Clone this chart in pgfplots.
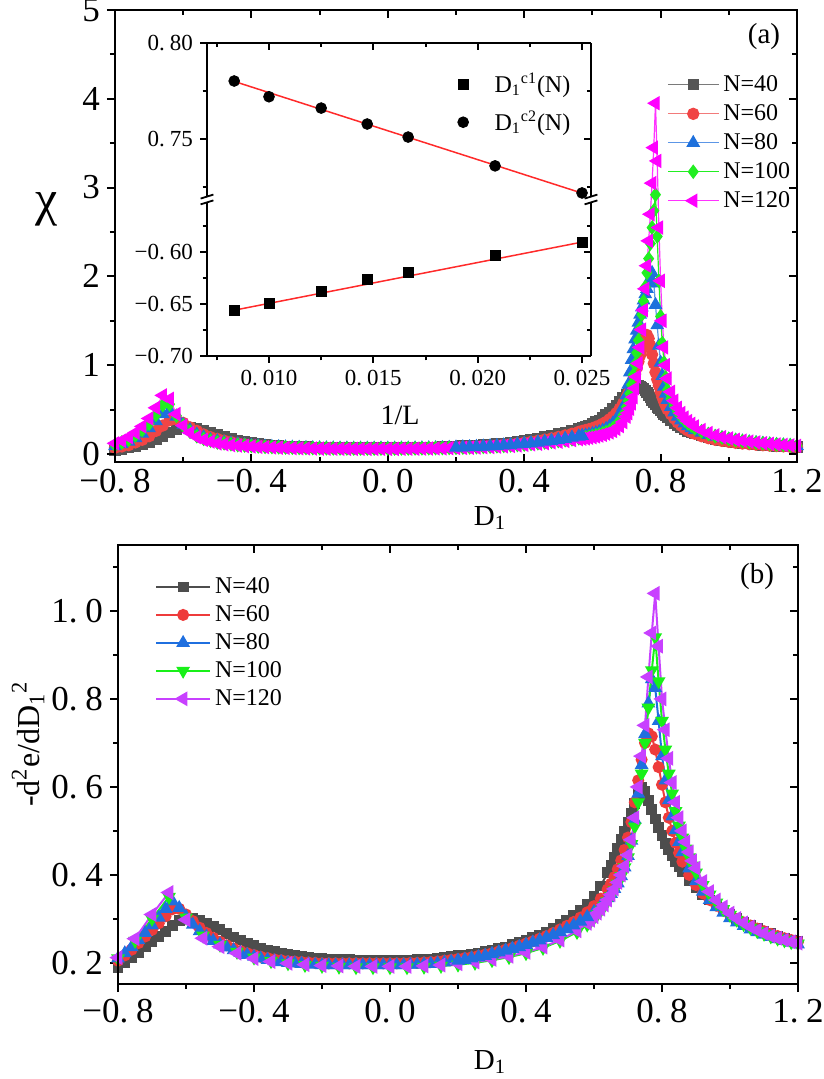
\documentclass[border=0pt]{standalone}
\usepackage{fontspec}
\setmainfont{Liberation Serif}
\usepackage{pgfplots}
\usepackage{pgfplotstable}
\pgfplotsset{compat=1.18}

\definecolor{aA}{HTML}{555555}\definecolor{aAl}{HTML}{7A7A7A}
\definecolor{aB}{HTML}{F04545}\definecolor{aBl}{HTML}{F27A7A}
\definecolor{aC}{HTML}{1E70DC}\definecolor{aCl}{HTML}{5C96E6}
\definecolor{aD}{HTML}{22EE22}\definecolor{aDl}{HTML}{22EE22}
\definecolor{aE}{HTML}{FF00FF}\definecolor{aEl}{HTML}{FF33FF}
\definecolor{bA}{HTML}{4D4D4D}
\definecolor{bB}{HTML}{EE3B3B}
\definecolor{bC}{HTML}{1F6FDF}
\definecolor{bD}{HTML}{19F019}
\definecolor{bE}{HTML}{C840FF}
\definecolor{fitred}{HTML}{FF2A2A}

\newcommand{\tk}[2]{#1.\hspace{0.22em}#2}

\pgfplotsset{
  base/.style={scale only axis, anchor=south west, scaled ticks=false,
    axis line style={line width=1.1pt},
    every tick/.append style={line width=1pt, black},
    major tick length=4pt, minor tick length=2.5pt},
  bigtl/.style={ticklabel style={font=\fontsize{17.5}{20}\selectfont}},
  smalltl/.style={ticklabel style={font=\fontsize{11.5}{13}\selectfont},
    major tick length=3.5pt, minor tick length=2.2pt,
    axis line style={line width=1pt}},
  sA/.style={color=aAl, line width=0.6pt, mark=square*, mark size=2.5pt, mark options={fill=aA, draw=aA, solid}},
  sB/.style={color=aBl, line width=0.6pt, mark=*, mark size=2.8pt, mark options={fill=aB, draw=aB, solid}},
  sC/.style={color=aCl, line width=0.6pt, mark=triangle*, mark size=3.4pt, mark options={fill=aC, draw=aC, solid}},
  sD/.style={color=aDl, line width=0.6pt, mark=diamond*, mark size=3.2pt, mark options={fill=aD, draw=aD, solid}},
  sE/.style={color=aEl, line width=0.6pt, mark=triangle*, mark size=3.6pt, mark options={fill=aE, draw=aE, solid, rotate=90}},
  tA/.style={color=bA, line width=1pt, mark=square*, mark size=2.2pt, mark options={fill=bA, draw=bA, solid}},
  tB/.style={color=bB, line width=1pt, mark=*, mark size=2.5pt, mark options={fill=bB, draw=bB, solid}},
  tC/.style={color=bC, line width=1pt, mark=triangle*, mark size=3pt, mark options={fill=bC, draw=bC, solid}},
  tD/.style={color=bD, line width=1pt, mark=triangle*, mark size=3pt, mark options={fill=bD, draw=bD, solid, rotate=180}},
  tE/.style={color=bE, line width=1pt, mark=triangle*, mark size=3.3pt, mark options={fill=bE, draw=bE, solid, rotate=90}},
}

\pgfplotstableread{
D n40 n60 n80 n100 n120
-0.80 0.045 0.070 0.090 0.100 0.120
-0.78 0.055 0.085 0.110 0.130 0.150
-0.76 0.070 0.100 0.140 0.160 0.190
-0.74 0.085 0.130 0.180 0.210 0.240
-0.72 0.105 0.160 0.230 0.270 0.310
-0.70 0.130 0.200 0.290 0.340 0.400
-0.68 0.160 0.260 0.370 0.440 0.520
-0.66 0.200 0.320 0.450 0.550 0.660
-0.64 0.240 0.380 0.490 0.560 0.620
-0.62 0.280 0.390 0.420 0.430 0.450
-0.60 0.300 0.350 0.330 0.320 0.320
-0.58 0.300 0.300 0.270 0.250 0.240
-0.56 0.285 0.260 0.220 0.200 0.190
-0.54 0.260 0.220 0.190 0.170 0.160
-0.52 0.240 0.190 0.160 0.150 0.140
-0.50 0.215 0.170 0.145 0.130 0.120
-0.48 0.195 0.150 0.130 0.120 0.110
-0.46 0.175 0.135 0.120 0.110 0.100
-0.44 0.155 0.120 0.110 0.100 0.095
-0.42 0.140 0.110 0.100 0.095 0.090
-0.40 0.125 0.100 0.095 0.090 0.085
-0.38 0.115 0.095 0.090 0.085 0.080
-0.36 0.106 0.090 0.085 0.080 0.077
-0.34 0.099 0.086 0.082 0.078 0.074
-0.32 0.093 0.082 0.079 0.075 0.071
-0.30 0.088 0.079 0.076 0.073 0.069
-0.28 0.084 0.076 0.074 0.071 0.067
-0.26 0.081 0.074 0.072 0.069 0.065
-0.24 0.078 0.072 0.070 0.067 0.063
-0.22 0.076 0.070 0.068 0.066 0.062
-0.20 0.074 0.069 0.067 0.065 0.061
-0.18 0.073 0.068 0.066 0.064 0.060
-0.16 0.072 0.067 0.065 0.063 0.059
-0.14 0.071 0.066 0.064 0.062 0.059
-0.12 0.070 0.066 0.064 0.062 0.058
-0.10 0.070 0.065 0.063 0.061 0.058
-0.08 0.069 0.065 0.063 0.061 0.058
-0.06 0.069 0.065 0.063 0.061 0.058
-0.04 0.069 0.065 0.063 0.061 0.058
-0.02 0.069 0.065 0.063 0.061 0.058
0.00 0.069 0.065 0.063 0.061 0.058
0.02 0.070 0.065 0.063 0.061 0.058
0.04 0.070 0.066 0.064 0.062 0.059
0.06 0.071 0.066 0.064 0.062 0.059
0.08 0.072 0.067 0.065 0.063 0.060
0.10 0.073 0.068 0.066 0.064 0.061
0.12 0.075 0.069 0.067 0.065 0.062
0.14 0.077 0.070 0.068 0.066 0.063
0.16 0.079 0.072 0.069 0.067 0.064
0.18 0.082 0.074 0.071 0.069 0.066
0.20 0.085 0.076 0.073 0.070 0.067
0.22 0.089 0.078 0.075 0.072 0.069
0.24 0.093 0.081 0.077 0.074 0.071
0.26 0.097 0.084 0.080 0.077 0.073
0.28 0.101 0.088 0.083 0.080 0.076
0.30 0.105 0.092 0.087 0.083 0.079
0.32 0.112 0.097 0.091 0.087 0.083
0.34 0.120 0.103 0.096 0.091 0.087
0.36 0.129 0.110 0.101 0.096 0.092
0.38 0.139 0.118 0.107 0.101 0.097
0.40 0.150 0.127 0.114 0.107 0.103
0.42 0.163 0.137 0.121 0.114 0.109
0.44 0.177 0.149 0.129 0.121 0.116
0.46 0.192 0.162 0.138 0.129 0.123
0.48 0.208 0.176 0.148 0.137 0.131
0.50 0.225 0.192 0.158 0.146 0.139
0.52 0.245 0.209 0.170 0.156 0.148
0.54 0.265 0.228 0.183 0.166 0.157
0.56 0.287 0.250 0.197 0.177 0.167
0.57 0.300 0.260 0.203 0.182 0.172
0.58 0.310 0.270 0.210 0.188 0.177
0.59 0.325 0.280 0.218 0.195 0.183
0.60 0.340 0.290 0.227 0.203 0.190
0.61 0.360 0.305 0.237 0.212 0.198
0.62 0.380 0.320 0.250 0.222 0.207
0.63 0.410 0.340 0.265 0.234 0.217
0.64 0.440 0.360 0.285 0.248 0.229
0.65 0.470 0.390 0.310 0.265 0.243
0.66 0.510 0.420 0.345 0.290 0.260
0.67 0.550 0.460 0.390 0.325 0.283
0.68 0.590 0.510 0.450 0.375 0.315
0.69 0.630 0.570 0.530 0.440 0.360
0.700 0.670 0.640 0.660 0.530 0.420
0.705 0.690 0.680 0.780 0.600 0.460
0.710 0.710 0.730 0.920 0.680 0.510
0.715 0.725 0.780 1.060 0.780 0.570
0.720 0.740 0.840 1.180 0.890 0.640
0.725 0.750 0.900 1.290 1.010 0.740
0.730 0.760 0.970 1.390 1.140 0.870
0.735 0.765 1.040 1.480 1.280 1.020
0.740 0.760 1.110 1.570 1.420 1.200
0.745 0.750 1.180 1.650 1.570 1.400
0.750 0.735 1.250 1.730 1.720 1.620
0.755 0.715 1.310 1.800 1.880 1.860
0.760 0.690 1.340 1.860 2.040 2.120
0.765 0.665 1.300 1.920 2.200 2.400
0.770 0.635 1.220 1.980 2.370 2.700
0.775 0.605 1.120 2.040 2.550 3.050
0.780 0.580 1.020 1.920 2.740 3.450
0.785 0.555 0.920 1.680 2.920 3.950
0.790 0.530 0.840 1.450 2.450 3.300
0.795 0.510 0.770 1.220 1.950 2.550
0.800 0.490 0.700 1.030 1.550 1.950
0.805 0.470 0.640 0.880 1.250 1.500
0.810 0.450 0.590 0.760 1.030 1.200
0.815 0.430 0.545 0.680 0.860 1.000
0.820 0.410 0.505 0.610 0.720 0.850
0.83 0.380 0.450 0.530 0.620 0.700
0.84 0.350 0.400 0.470 0.540 0.600
0.85 0.325 0.355 0.420 0.470 0.520
0.86 0.300 0.320 0.380 0.420 0.460
0.87 0.280 0.290 0.345 0.380 0.410
0.88 0.260 0.265 0.315 0.345 0.370
0.89 0.245 0.245 0.290 0.320 0.340
0.90 0.230 0.228 0.270 0.290 0.310
0.92 0.205 0.200 0.240 0.255 0.270
0.94 0.185 0.178 0.215 0.225 0.235
0.96 0.168 0.160 0.195 0.200 0.210
0.98 0.153 0.147 0.180 0.185 0.190
1.00 0.141 0.136 0.165 0.170 0.175
1.02 0.131 0.126 0.153 0.157 0.160
1.04 0.122 0.118 0.142 0.146 0.150
1.06 0.114 0.111 0.133 0.136 0.140
1.08 0.107 0.105 0.125 0.128 0.130
1.10 0.101 0.099 0.118 0.120 0.122
1.12 0.096 0.094 0.111 0.113 0.115
1.14 0.091 0.090 0.105 0.107 0.108
1.16 0.087 0.086 0.100 0.102 0.102
1.18 0.083 0.082 0.095 0.097 0.097
1.20 0.079 0.078 0.090 0.092 0.092
}\tabA

\pgfplotstableread{
D b40 b60 b80
-0.80 0.190 0.205 0.210
-0.78 0.200 0.217 0.222
-0.76 0.212 0.230 0.236
-0.74 0.224 0.245 0.252
-0.72 0.236 0.260 0.268
-0.70 0.248 0.275 0.285
-0.68 0.260 0.290 0.303
-0.66 0.272 0.306 0.323
-0.64 0.285 0.322 0.340
-0.62 0.297 0.323 0.325
-0.60 0.302 0.310 0.305
-0.58 0.300 0.295 0.287
-0.56 0.296 0.280 0.272
-0.54 0.290 0.268 0.260
-0.52 0.283 0.257 0.250
-0.50 0.275 0.248 0.242
-0.48 0.267 0.240 0.235
-0.46 0.259 0.233 0.229
-0.44 0.252 0.227 0.223
-0.42 0.245 0.222 0.218
-0.40 0.239 0.218 0.214
-0.38 0.234 0.214 0.210
-0.36 0.229 0.211 0.207
-0.34 0.225 0.208 0.204
-0.32 0.222 0.206 0.202
-0.30 0.219 0.204 0.200
-0.28 0.217 0.203 0.199
-0.26 0.215 0.202 0.198
-0.24 0.213 0.201 0.197
-0.22 0.211 0.200 0.196
-0.20 0.210 0.199 0.195
-0.18 0.209 0.199 0.195
-0.16 0.208 0.199 0.195
-0.14 0.207 0.199 0.195
-0.12 0.207 0.199 0.195
-0.10 0.206 0.199 0.195
-0.08 0.206 0.199 0.195
-0.06 0.206 0.199 0.195
-0.04 0.206 0.199 0.195
-0.02 0.206 0.199 0.195
0.00 0.206 0.199 0.195
0.02 0.206 0.199 0.195
0.04 0.206 0.199 0.195
0.06 0.206 0.200 0.196
0.08 0.207 0.200 0.196
0.10 0.208 0.201 0.197
0.12 0.209 0.202 0.198
0.14 0.210 0.203 0.199
0.16 0.212 0.205 0.201
0.18 0.214 0.207 0.203
0.20 0.216 0.209 0.205
0.22 0.218 0.211 0.207
0.24 0.220 0.213 0.210
0.26 0.222 0.216 0.213
0.28 0.225 0.219 0.216
0.30 0.228 0.222 0.220
0.32 0.232 0.226 0.224
0.34 0.236 0.230 0.228
0.36 0.241 0.234 0.232
0.38 0.246 0.239 0.236
0.40 0.251 0.244 0.241
0.42 0.257 0.249 0.246
0.44 0.263 0.255 0.251
0.46 0.270 0.261 0.257
0.48 0.278 0.268 0.263
0.50 0.287 0.276 0.270
0.52 0.297 0.284 0.277
0.54 0.308 0.293 0.285
0.56 0.320 0.303 0.294
0.58 0.334 0.315 0.304
0.60 0.352 0.329 0.316
0.62 0.375 0.346 0.330
0.64 0.405 0.367 0.347
0.65 0.422 0.380 0.357
0.66 0.440 0.395 0.368
0.67 0.460 0.413 0.381
0.68 0.480 0.433 0.397
0.69 0.500 0.457 0.417
0.70 0.520 0.485 0.443
0.71 0.540 0.520 0.478
0.72 0.562 0.565 0.525
0.73 0.585 0.615 0.585
0.74 0.600 0.662 0.650
0.75 0.590 0.700 0.720
0.76 0.570 0.722 0.790
0.77 0.548 0.715 0.845
0.78 0.527 0.685 0.825
0.79 0.507 0.645 0.750
0.80 0.489 0.605 0.670
0.81 0.472 0.565 0.615
0.82 0.457 0.530 0.570
0.83 0.443 0.500 0.533
0.84 0.430 0.473 0.502
0.85 0.418 0.450 0.475
0.86 0.407 0.430 0.452
0.88 0.388 0.400 0.415
0.90 0.371 0.377 0.386
0.92 0.356 0.358 0.362
0.94 0.343 0.343 0.343
0.96 0.331 0.330 0.327
0.98 0.320 0.319 0.314
1.00 0.310 0.309 0.302
1.02 0.301 0.300 0.292
1.04 0.293 0.292 0.284
1.06 0.285 0.285 0.276
1.08 0.278 0.278 0.270
1.10 0.272 0.272 0.264
1.12 0.266 0.266 0.259
1.14 0.261 0.261 0.254
1.16 0.256 0.256 0.250
1.18 0.252 0.252 0.246
1.20 0.248 0.248 0.242
}\tabB

\pgfplotstableread{
D b100 b120
-0.80 0.210 0.212
-0.75 0.250 0.255
-0.70 0.300 0.310
-0.65 0.350 0.360
-0.60 0.303 0.298
-0.55 0.262 0.256
-0.50 0.241 0.237
-0.45 0.225 0.222
-0.40 0.212 0.210
-0.35 0.204 0.203
-0.30 0.199 0.199
-0.25 0.195 0.196
-0.20 0.193 0.194
-0.15 0.191 0.193
-0.10 0.190 0.192
-0.05 0.190 0.192
0.00 0.190 0.192
0.05 0.190 0.192
0.10 0.191 0.193
0.15 0.193 0.195
0.20 0.196 0.198
0.25 0.200 0.202
0.30 0.206 0.208
0.35 0.213 0.215
0.40 0.222 0.224
0.45 0.234 0.236
0.50 0.250 0.252
0.55 0.270 0.273
0.58 0.287 0.290
0.59 0.294 0.297
0.60 0.302 0.305
0.61 0.310 0.313
0.62 0.319 0.322
0.63 0.329 0.332
0.64 0.340 0.343
0.65 0.352 0.355
0.66 0.365 0.368
0.67 0.380 0.383
0.68 0.397 0.400
0.69 0.417 0.420
0.70 0.440 0.445
0.71 0.470 0.480
0.72 0.510 0.530
0.73 0.565 0.600
0.74 0.630 0.670
0.75 0.700 0.740
0.76 0.780 0.850
0.77 0.865 0.950
0.78 0.940 1.040
0.79 0.840 0.920
0.80 0.750 0.800
0.81 0.685 0.730
0.82 0.630 0.665
0.83 0.585 0.610
0.84 0.545 0.565
0.85 0.512 0.530
0.86 0.485 0.500
0.87 0.460 0.475
0.88 0.440 0.452
0.89 0.421 0.432
0.90 0.405 0.415
0.92 0.377 0.385
0.94 0.355 0.362
0.96 0.337 0.343
0.98 0.322 0.327
1.00 0.309 0.313
1.02 0.298 0.301
1.04 0.288 0.291
1.06 0.280 0.282
1.08 0.272 0.274
1.10 0.266 0.267
1.12 0.260 0.261
1.14 0.255 0.256
1.16 0.251 0.252
1.18 0.247 0.248
1.20 0.244 0.245
}\tabC

\begin{document}
\begin{tikzpicture}[x=1pt,y=1pt]
\useasboundingbox (0pt,0pt) rectangle (411.5pt,539.5pt);

% ---------------- panel (a) ----------------
\begin{axis}[base, bigtl, at={(57.5pt,308.5pt)}, width=341pt, height=226pt,
  xmin=-0.8, xmax=1.2, ymin=-0.09, ymax=5,
  xtick={-0.8,-0.4,0,0.4,0.8,1.2},
  xticklabels={\tk{−0}{8},\tk{−0}{4},\tk{0}{0},\tk{0}{4},\tk{0}{8},\tk{1}{2}},
  minor xtick={-0.6,-0.2,0.2,0.6,1.0},
  ytick={0,1,2,3,4,5}, yticklabels={}, minor ytick={0.5,1.5,2.5,3.5,4.5},
  ytick pos=right, tick align=inside,
  legend style={at={(0.809,0.865)}, anchor=north west, draw=none, fill=none,
    font=\fontsize{12}{13}\selectfont, row sep=1pt, inner sep=0pt},
  legend cell align=left,
  legend image code/.code={\draw[mark repeat=2,mark phase=2,#1] plot coordinates {(0pt,0pt) (12.75pt,0pt) (25.5pt,0pt)};},
]
\addplot[sA] table[x=D,y=n40]{\tabA}; \addlegendentry{N=40}
\addplot[sB] table[x=D,y=n60]{\tabA}; \addlegendentry{N=60}
\addplot[sC] table[x=D,y=n80]{\tabA}; \addlegendentry{N=80}
\addplot[sD] table[x=D,y=n100]{\tabA}; \addlegendentry{N=100}
\addplot[sE] table[x=D,y=n120]{\tabA}; \addlegendentry{N=120}
\addplot[sC, restrict x to domain=0.2:0.57, forget plot] table[x=D,y=n80]{\tabA};
\end{axis}
\begin{axis}[base, bigtl, at={(57.5pt,308.5pt)}, width=341pt, height=226pt,
  xmin=-0.8, xmax=1.2, ymin=-0.09, ymax=5, xtick=\empty,
  ytick={0,1,2,3,4,5}, yticklabels={0,1,2,3,4,5}, minor ytick={0.5,1.5,2.5,3.5,4.5},
  ytick pos=left, tick align=outside]
\end{axis}

% inset upper
\begin{axis}[base, smalltl, at={(103.5pt,441pt)}, width=192pt, height=77pt,
  xmin=0.00703, xmax=0.02543, ymin=0.7198, ymax=0.80,
  axis x line=top, axis y line=left, axis line style={-}, clip=false,
  xtick=\empty, ytick={0.75,0.80}, yticklabels={\tk{0}{75},\tk{0}{80}},
  minor ytick={0.725,0.775}, tick align=outside,
  legend style={at={(0.652,0.835)}, anchor=north west, draw=none, fill=none,
    font=\fontsize{12}{14}\selectfont, row sep=4pt, inner sep=0pt},
  legend cell align=left]
\addlegendimage{only marks, mark=square*, mark size=2.5pt, black}
\addlegendentry{\hspace{11pt}D\textsubscript{1}\textsuperscript{c1}(N)}
\addplot[fitred, line width=0.75pt, forget plot] coordinates {(0.00833,0.7800) (0.025,0.7218)};
\addplot[only marks, mark=*, mark size=2.7pt, black] coordinates {
(0.008333,0.7802) (0.010,0.7720) (0.0125,0.7661) (0.014706,0.7578) (0.016667,0.7510) (0.020833,0.7360) (0.025,0.7219)};
\addlegendentry{\hspace{11pt}D\textsubscript{1}\textsuperscript{c2}(N)}
\end{axis}
\begin{axis}[base, smalltl, at={(103.5pt,441pt)}, width=192pt, height=77pt,
  xmin=0.00703, xmax=0.02543, ymin=0.7198, ymax=0.80,
  axis x line=top, axis y line=right, axis line style={-},
  xtick={0.010,0.015,0.020,0.025}, xticklabels={}, minor xtick={0.0075,0.0125,0.0175,0.0225},
  ytick={0.75,0.80}, yticklabels={}, minor ytick={0.725,0.775}, tick align=inside]
\end{axis}

% inset lower
\begin{axis}[base, smalltl, at={(103.5pt,361.5pt)}, width=192pt, height=76.5pt,
  xmin=0.00703, xmax=0.02543, ymin=-0.70, ymax=-0.5529,
  axis x line=bottom, axis y line=left, axis line style={-}, clip=false,
  xtick={0.010,0.015,0.020,0.025},
  xticklabels={\tk{0}{010},\tk{0}{015},\tk{0}{020},\tk{0}{025}},
  minor xtick={0.0075,0.0125,0.0175,0.0225},
  ytick={-0.70,-0.65,-0.60}, yticklabels={\tk{−0}{70},\tk{−0}{65},\tk{−0}{60}},
  minor ytick={-0.675,-0.625,-0.575}, tick align=outside]
\addplot[fitred, line width=0.75pt] coordinates {(0.00833,-0.6560) (0.025,-0.5905)};
\addplot[only marks, mark=square*, mark size=2.5pt, black] coordinates {
(0.008333,-0.6558) (0.010,-0.6490) (0.0125,-0.6375) (0.014706,-0.6260) (0.016667,-0.6192) (0.020833,-0.6030) (0.025,-0.5904)};
\end{axis}
\begin{axis}[base, smalltl, at={(103.5pt,361.5pt)}, width=192pt, height=76.5pt,
  xmin=0.00703, xmax=0.02543, ymin=-0.70, ymax=-0.5529,
  axis x line=none, axis y line=right, axis line style={-},
  ytick={-0.70,-0.65,-0.60}, yticklabels={}, minor ytick={-0.675,-0.625,-0.575}, tick align=inside]
\end{axis}

% break marks
\foreach \xx in {103.5,295.5}{
  \draw[line width=0.9pt] (\xx pt-3.2pt,440.2pt) -- (\xx pt+3.2pt,442.2pt);
  \draw[line width=0.9pt] (\xx pt-3.2pt,437.3pt) -- (\xx pt+3.2pt,439.3pt);
}

\node at (200pt,332pt) {\fontsize{14}{15}\selectfont 1/L};
\node at (23.5pt,435pt) {\fontsize{25}{27}\selectfont χ};
\node at (245pt,280.5pt) {\fontsize{14.5}{16}\selectfont D\textsubscript{1}};
\node at (382pt,521pt) {\fontsize{14.5}{16}\selectfont (a)};

% ---------------- panel (b) ----------------
\begin{axis}[base, bigtl, at={(59pt,47.5pt)}, width=340pt, height=219.5pt,
  xmin=-0.8, xmax=1.2, ymin=0.152, ymax=1.15,
  xtick={-0.8,-0.4,0,0.4,0.8,1.2},
  xticklabels={\tk{−0}{8},\tk{−0}{4},\tk{0}{0},\tk{0}{4},\tk{0}{8},\tk{1}{2}},
  minor xtick={-0.6,-0.2,0.2,0.6,1.0},
  ytick={0.2,0.4,0.6,0.8,1.0}, yticklabels={\tk{0}{2},\tk{0}{4},\tk{0}{6},\tk{0}{8},\tk{1}{0}},
  minor ytick={0.3,0.5,0.7,0.9,1.1},
  xtick pos=left, ytick pos=left, tick align=outside,
  legend style={at={(0.054,0.936)}, anchor=north west, draw=none, fill=none,
    font=\fontsize{12}{13.5}\selectfont, row sep=0.5pt, inner sep=0pt},
  legend cell align=left,
  legend image code/.code={\draw[mark repeat=2,mark phase=2,#1] plot coordinates {(0pt,0pt) (13.5pt,0pt) (27pt,0pt)};},
]
\addplot[tA] table[x=D,y=b40]{\tabB}; \addlegendentry{N=40}
\addplot[tB] table[x=D,y=b60]{\tabB}; \addlegendentry{N=60}
\addplot[tC] table[x=D,y=b80]{\tabB}; \addlegendentry{N=80}
\addplot[tD] table[x=D,y=b100]{\tabC}; \addlegendentry{N=100}
\addplot[tE] table[x=D,y=b120]{\tabC}; \addlegendentry{N=120}
\addplot[tC, restrict x to domain=0.2:0.58, forget plot] table[x=D,y=b80]{\tabB};
\end{axis}
\begin{axis}[base, bigtl, at={(59pt,47.5pt)}, width=340pt, height=219.5pt,
  xmin=-0.8, xmax=1.2, ymin=0.152, ymax=1.15,
  xtick={-0.8,-0.4,0,0.4,0.8,1.2}, xticklabels={}, minor xtick={-0.6,-0.2,0.2,0.6,1.0},
  ytick={0.2,0.4,0.6,0.8,1.0}, yticklabels={}, minor ytick={0.3,0.5,0.7,0.9,1.1},
  xtick pos=right, ytick pos=right, tick align=inside]
\end{axis}

\node at (245pt,8.5pt) {\fontsize{14.5}{16}\selectfont D\textsubscript{1}};
\node at (378.5pt,251pt) {\fontsize{14.5}{16}\selectfont (b)};
\node[rotate=90] at (14pt,167.5pt) {\fontsize{16}{18}\selectfont -d\textsuperscript{2}e/dD\textsubscript{1}\textsuperscript{2}};

\end{tikzpicture}
\end{document}
